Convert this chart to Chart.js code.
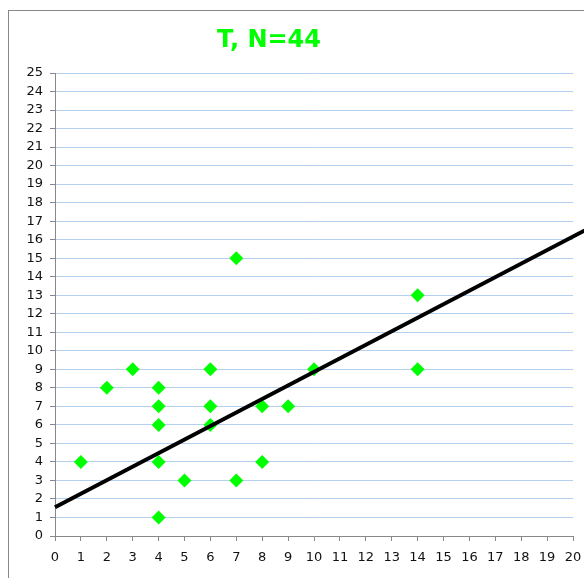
<!DOCTYPE html>
<html>
<head>
<meta charset="utf-8">
<script src="https://cdn.jsdelivr.net/npm/chart.js@4/dist/chart.umd.min.js"></script>
<style>
  html, body { margin: 0; padding: 0; background: #fff; }
  #wrap { width: 584px; height: 578px; }
</style>
</head>
<body>
<div id="wrap"><canvas id="chart" width="584" height="578"></canvas></div>
<script>
// data
const xValues = [1, 2, 3, 4, 4, 4, 4, 4, 5, 6, 6, 6, 7, 7, 8, 8, 9, 10, 14, 14];
const yValues = [4, 8, 9, 8, 7, 6, 4, 1, 3, 9, 7, 6, 3, 15, 7, 4, 7, 9, 13, 9];
const trendX = [0, 20.45];
const trendY = [1.55, 16.5];
const chartTitle = 'T, N=44';

let points = xValues.map((x, i) => ({ x: x, y: yValues[i] }));
let trend = trendX.map((x, i) => ({ x: x, y: trendY[i] }));

// frame and title drawn on the canvas
const decor = {
  id: 'decor',
  beforeDraw(chart) {
    let ctx = chart.ctx;
    ctx.save();
    ctx.strokeStyle = '#888';
    ctx.lineWidth = 1;
    ctx.strokeRect(8.5, 10.5, 700, 700);
    ctx.fillStyle = '#00ff00';
    ctx.font = 'bold 24px "DejaVu Sans", Verdana, sans-serif';
    ctx.textAlign = 'center';
    ctx.textBaseline = 'middle';
    ctx.fillText(chartTitle, 269, 41);
    ctx.restore();
  }
};

let ctx = document.getElementById('chart').getContext('2d');
new Chart(ctx, {
  type: 'scatter',
  data: {
    datasets: [{
      label: 'T',
      data: points,
      pointStyle: 'rectRot',
      pointRadius: 7,
      pointHoverRadius: 7,
      backgroundColor: '#00ff00',
      borderColor: '#00ff00',
      borderWidth: 0,
      order: 1
    }, {
      label: 'trend',
      type: 'line',
      data: trend,
      borderColor: '#000',
      borderWidth: 4,
      pointRadius: 0,
      fill: false,
      clip: false,
      order: 0
    }]
  },
  options: {
    responsive: false,
    animation: false,
    layout: { padding: { left: 0, right: 11, top: 73, bottom: 0 } },
    plugins: {
      legend: { display: false },
      title: { display: false },
      tooltip: { enabled: false }
    },
    scales: {
      x: {
        type: 'linear',
        min: 0,
        max: 20,
        ticks: {
          stepSize: 1,
          autoSkip: false,
          maxRotation: 0,
          color: '#111',
          padding: 9,
          font: { family: '"DejaVu Sans", Verdana, sans-serif', size: 13 }
        },
        grid: { drawOnChartArea: false, tickLength: 5, tickColor: '#888' },
        border: { color: '#888' },
        afterFit(scale) {
          scale.height = 42;
          scale.paddingRight = 0;
          scale.paddingLeft = 0;
        }
      },
      y: {
        min: 0,
        max: 25,
        ticks: {
          stepSize: 1,
          autoSkip: false,
          color: '#111',
          padding: 7,
          font: { family: '"DejaVu Sans", Verdana, sans-serif', size: 13 }
        },
        grid: { color: '#b4d0f0', tickLength: 5, tickColor: '#888' },
        border: { color: '#888' },
        afterFit(scale) {
          scale.width = 55;
          scale.paddingTop = 0;
          scale.paddingBottom = 0;
        }
      }
    }
  },
  plugins: [decor]
});
</script>
</body>
</html>
